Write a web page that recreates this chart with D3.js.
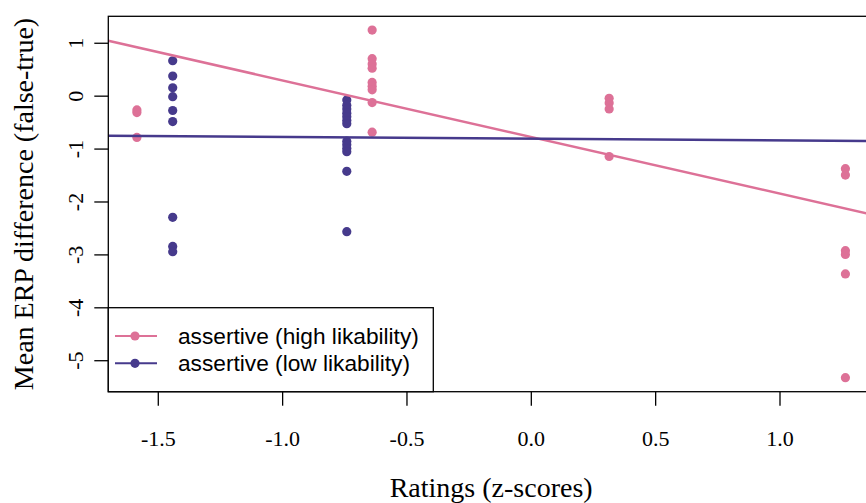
<!DOCTYPE html>
<html>
<head>
<meta charset="utf-8">
<script src="https://cdn.jsdelivr.net/npm/d3@7"></script>
<style>
  body { margin: 0; background: #fff; }
  svg { display: block; }
</style>
</head>
<body>
<svg id="chart"></svg>
<script>
// data
var seriesNames = ["assertive (high likability)", "assertive (low likability)"];
var seriesColors = ["#DD7197", "#463A8C"];

var highX = [-1.584, -1.584, -1.584,
  -0.638, -0.638, -0.638, -0.638, -0.638, -0.638, -0.638, -0.638, -0.638,
  0.315, 0.315, 0.315, 0.315,
  1.265, 1.265, 1.265, 1.265, 1.265, 1.265];
var highY = [-0.27, -0.32, -0.79,
  1.24, 0.70, 0.60, 0.52, 0.25, 0.18, 0.11, -0.13, -0.69,
  -0.05, -0.14, -0.25, -1.15,
  -1.38, -1.50, -2.93, -3.00, -3.37, -5.33];

var lowX = [-1.44, -1.44, -1.44, -1.44, -1.44, -1.44, -1.44, -1.44, -1.44,
  -0.74, -0.74, -0.74, -0.74, -0.74, -0.74, -0.74, -0.74, -0.74, -0.74, -0.74, -0.74, -0.74];
var lowY = [0.66, 0.37, 0.15, -0.02, -0.28, -0.49, -2.30, -2.85, -2.95,
  -0.08, -0.18, -0.25, -0.33, -0.40, -0.47, -0.53, -0.86, -0.93, -1.00, -1.06, -1.43, -2.57];

// fitted lines (intercept, slope)
var highFit = [-0.78, -1.07];
var lowFit = [-0.812, -0.033];

var xTicks = [-1.5, -1.0, -0.5, 0.0, 0.5, 1.0];
var yTicks = [1, 0, -1, -2, -3, -4, -5];

var width = 866, height = 503;
var plot = {left: 108.3, right: 874, top: 16.3, bottom: 391.7};

var svg = d3.select("#chart").attr("width", width).attr("height", height);

var x = d3.scaleLinear().domain([-1.699, 1.38]).range([plot.left, plot.right]);
var y = d3.scaleLinear().domain([-5.595, 1.50]).range([plot.bottom, plot.top]);

// plain hyphen minus like R
var fmtX = function(d) { return d.toFixed(1); };
var fmtY = function(d) { return String(d); };

svg.append("clipPath").attr("id", "clip")
  .append("rect")
  .attr("x", plot.left).attr("y", plot.top)
  .attr("width", plot.right - plot.left).attr("height", plot.bottom - plot.top);

var g = svg.append("g").attr("clip-path", "url(#clip)");

var groups = [
  {xs: highX, ys: highY, color: seriesColors[0], fit: highFit},
  {xs: lowX, ys: lowY, color: seriesColors[1], fit: lowFit}
];

// points
groups.forEach(function(s) {
  g.selectAll(null)
    .data(s.xs.map(function(d, i) { return [d, s.ys[i]]; }))
    .enter()
    .append("circle")
    .attr("cx", function(d) { return x(d[0]); })
    .attr("cy", function(d) { return y(d[1]); })
    .attr("r", 4.6)
    .attr("fill", s.color);
});

// regression lines
groups.forEach(function(s) {
  var x0 = x.domain()[0], x1 = x.domain()[1];
  g.append("line")
    .attr("x1", x(x0)).attr("y1", y(s.fit[0] + s.fit[1] * x0))
    .attr("x2", x(x1)).attr("y2", y(s.fit[0] + s.fit[1] * x1))
    .attr("stroke", s.color)
    .attr("stroke-width", 2.5);
});

// box
svg.append("rect")
  .attr("x", plot.left).attr("y", plot.top)
  .attr("width", plot.right - plot.left).attr("height", plot.bottom - plot.top)
  .attr("fill", "none").attr("stroke", "#000").attr("stroke-width", 1.3);

// x axis
var xAxis = svg.append("g")
  .attr("transform", "translate(0," + plot.bottom + ")")
  .call(d3.axisBottom(x).tickValues(xTicks).tickSize(14).tickFormat(fmtX));
xAxis.select(".domain").remove();
xAxis.selectAll("line").attr("stroke", "#000").attr("stroke-width", 1.3);
xAxis.selectAll("text")
  .attr("y", 0).attr("dy", null)
  .attr("transform", "translate(0,54)")
  .attr("fill", "#000")
  .style("font-family", "'Liberation Serif', 'Times New Roman', serif")
  .style("font-size", "22px");

// y axis
var yAxis = svg.append("g")
  .attr("transform", "translate(" + plot.left + ",0)")
  .call(d3.axisLeft(y).tickValues(yTicks).tickSize(14).tickFormat(fmtY));
yAxis.select(".domain").remove();
yAxis.selectAll("line").attr("stroke", "#000").attr("stroke-width", 1.3);
yAxis.selectAll("text")
  .attr("x", 0).attr("dy", null)
  .attr("transform", "translate(-25,0) rotate(-90)")
  .attr("text-anchor", "middle")
  .attr("fill", "#000")
  .style("font-family", "'Liberation Serif', 'Times New Roman', serif")
  .style("font-size", "22px");

// axis titles
svg.append("text")
  .attr("x", (plot.left + plot.right) / 2)
  .attr("y", 497)
  .attr("text-anchor", "middle")
  .style("font-family", "'Liberation Serif', 'Times New Roman', serif")
  .style("font-size", "28px")
  .text("Ratings (z-scores)");

svg.append("text")
  .attr("transform", "translate(33," + (plot.top + plot.bottom) / 2 + ") rotate(-90)")
  .attr("text-anchor", "middle")
  .style("font-family", "'Liberation Serif', 'Times New Roman', serif")
  .style("font-size", "28px")
  .text("Mean ERP difference (false-true)");

// legend
var legend = svg.append("g");
legend.append("rect")
  .attr("x", plot.left).attr("y", 307.7)
  .attr("width", 433.3 - plot.left).attr("height", plot.bottom - 307.7)
  .attr("fill", "#fff").attr("stroke", "#000").attr("stroke-width", 1.3);

var rowY = [336, 363.3];
seriesNames.forEach(function(name, i) {
  legend.append("line")
    .attr("x1", 115).attr("x2", 157)
    .attr("y1", rowY[i]).attr("y2", rowY[i])
    .attr("stroke", seriesColors[i]).attr("stroke-width", 2);
  legend.append("circle")
    .attr("cx", 135).attr("cy", rowY[i]).attr("r", 4.6)
    .attr("fill", seriesColors[i]);
  legend.append("text")
    .attr("x", 178).attr("y", rowY[i])
    .attr("dy", "0.35em")
    .style("font-family", "'Liberation Sans', Arial, sans-serif")
    .style("font-size", "22.7px")
    .text(name);
});
</script>
</body>
</html>
